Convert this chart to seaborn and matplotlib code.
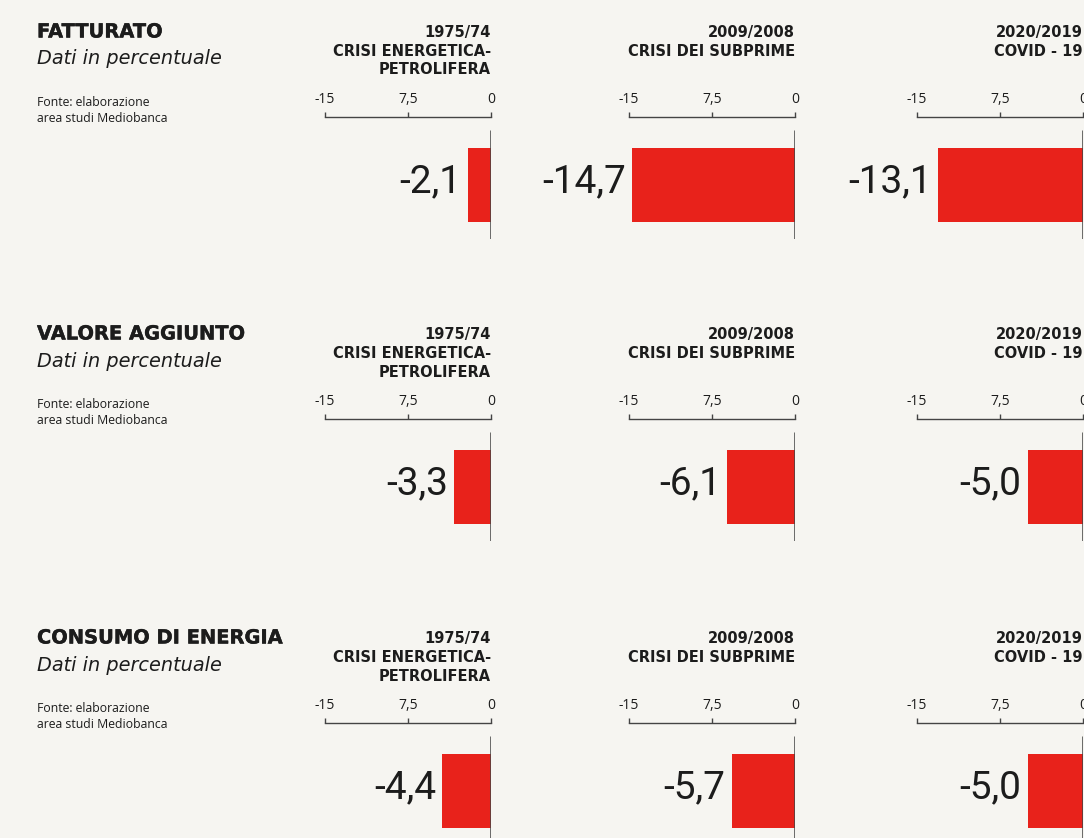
import matplotlib
matplotlib.use("Agg")
import matplotlib.pyplot as plt
import matplotlib.patheffects as pe
import seaborn as sns
import pandas as pd

# ---- data ----
indicators = ["FATTURATO", "VALORE AGGIUNTO", "CONSUMO DI ENERGIA"]
periods = ["1975/74", "2009/2008", "2020/2019"]
crises = [["CRISI ENERGETICA-", "PETROLIFERA"], ["CRISI DEI SUBPRIME"], ["COVID - 19"]]
fatturato = [-2.1, -14.7, -13.1]
valore_aggiunto = [-3.3, -6.1, -5.0]
consumo_energia = [-4.4, -5.7, -5.0]
tick_values = [-15, -7.5, 0]
tick_labels = ["-15", "7,5", "0"]
subtitle = "Dati in percentuale"
source = ["Fonte: elaborazione", "area studi Mediobanca"]

values = [fatturato, valore_aggiunto, consumo_energia]

sns.set_theme(style="white")
plt.rcParams["font.family"] = ["Open Sans", "DejaVu Sans"]
HEAD = ["DejaVu Sans"]

W, H = 1084, 838
BG = "#f6f5f1"
RED = "#e8221b"
INK = "#1c1c1c"
LINE = "#444444"
fig = plt.figure(figsize=(W / 100, H / 100), dpi=100, facecolor=BG)

col_left = [325, 629, 917]
col_w = 166
row_off = [0, 302, 606]
ax_top, ax_bot = 117, 239

heavy = [pe.withStroke(linewidth=0.3, foreground=INK)]


def fx(px):
    return px / W


def fy(py):
    return 1 - py / H


for r, ind in enumerate(indicators):
    o = row_off[r]
    # left block
    fig.text(fx(37), fy(32 + o), ind, fontsize=14, fontweight="bold", color=INK,
             ha="left", va="center", family=HEAD, path_effects=heavy)
    fig.text(fx(37), fy(59 + o), subtitle, fontsize=13.9, fontstyle="oblique", color=INK,
             ha="left", va="center", family=HEAD)
    fig.text(fx(37), fy(102 + o), source[0], fontsize=8.8, color=INK, ha="left", va="center")
    fig.text(fx(37), fy(118 + o), source[1], fontsize=8.8, color=INK, ha="left", va="center")

    for c in range(3):
        left = col_left[c]
        ax = fig.add_axes([fx(left), fy(ax_bot + o), col_w / W, (ax_bot - ax_top) / H])
        ax.set_facecolor("none")
        df = pd.DataFrame({"crisi": [periods[c]], "valore": [values[r][c]]})
        sns.barplot(data=df, x="valore", y="crisi", orient="h", color=RED,
                    saturation=1, width=0.8, ax=ax, edgecolor="none")
        ax.set_xlim(-15, 0)
        ax.set_ylim(0.584, -0.735)
        ax.axvline(0, ymin=0, ymax=0.885, color=LINE, lw=1.1, zorder=3)
        for s in ["left", "right", "bottom"]:
            ax.spines[s].set_visible(False)
        ax.spines["top"].set_color(LINE)
        ax.spines["top"].set_linewidth(1.0)
        ax.xaxis.tick_top()
        ax.set_xticks(tick_values)
        ax.set_xticklabels(tick_labels)
        ax.tick_params(axis="x", direction="out", length=3.5, width=1.0, color=LINE,
                       pad=4, labelsize=10, labelcolor=INK)
        ax.set_yticks([])
        ax.set_xlabel("")
        ax.set_ylabel("")

        v = values[r][c]
        ax.annotate(f"{v:.1f}".replace(".", ","), xy=(v, 0), xytext=(-4.5, 2),
                    textcoords="offset points", ha="right", va="center",
                    fontsize=28, color=INK, fontfamily=["Roboto", "DejaVu Sans"],
                    fontweight="normal")

        # column headers
        xr = fx(left + col_w)
        fig.text(xr, fy(32 + o), periods[c], fontsize=10.5, fontweight="bold", color=INK,
                 ha="right", va="center", family=HEAD)
        for k, line in enumerate(crises[c]):
            fig.text(xr, fy(51 + 19 * k + o), line, fontsize=10.5, fontweight="bold",
                     color=INK, ha="right", va="center", family=HEAD)

fig.savefig("out.png", dpi=100, facecolor=BG)
